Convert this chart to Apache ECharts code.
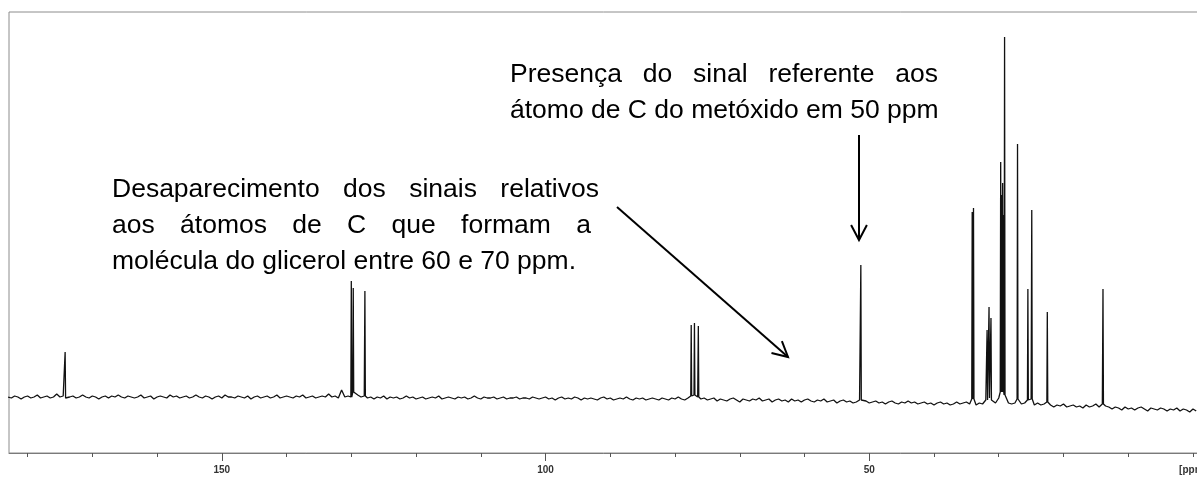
<!DOCTYPE html>
<html>
<head>
<meta charset="utf-8">
<script src="https://cdn.jsdelivr.net/npm/echarts@6/dist/echarts.min.js"></script>
<style>
  html, body { margin: 0; padding: 0; background: #fff; }
  #spectrum { width: 1197px; height: 477px; }
</style>
</head>
<body>
<div id="spectrum"></div>
<script>
// eixo em ppm (invertido, como no espectro de RMN)
const X_MIN = -0.93;
const X_MAX = 182.87;
const minorTicks = [180, 170, 160, 150, 140, 130, 120, 110, 100, 90, 80, 70, 60, 50, 40, 30, 20, 10, 0];
const majorTicks = [150, 100, 50];
const tickLabels = [150, 100, 50, 0];

// linha de base (ruído), um valor a cada 0.5 ppm, de 183 ppm até -0.5 ppm
const baselineStart = 183;
const baselineStep = 0.5;
const baseline = [
  3, 2, 4, 3, 1, 3, 4, 2, 3, 5, 2, 3, 4, 2, 3, 6, 3, 4, 2, 3,
  4, 2, 3, 5, 3, 2, 4, 3, 1, 3, 4, 2, 4, 3, 5, 3, 2, 4, 3, 2,
  3, 5, 2, 3, 4, 1, 3, 4, 3, 2, 5, 3, 4, 2, 3, 4, 2, 3, 5, 3,
  2, 4, 3, 1, 3, 4, 2, 5, 3, 3, 2, 4, 3, 2, 4, 1, 3, 4, 2, 3,
  4, 2, 3, 5, 2, 3, 4, 3, 2, 4, 3, 5, 2, 3, 4, 2, 3, 4, 3, 6,
  3, 4, 2, 10, 3, 4, 3, 8, 5, 3, 4, 2, 3, 1, 3, 2, 4, 1, 3, 2,
  3, 1, 2, 4, 2, 3, 1, 2, 3, 1, 2, 3, 2, 4, 1, 2, 3, 2, 1, 3,
  2, 3, 1, 2, 4, 2, 1, 3, 2, 2, 3, 1, 2, 3, 1, 2, 2, 3, 1, 2,
  2, 1, 3, 2, 1, 2, 3, 1, 2, 0, 2, 3, 1, 2, 1, 3, 2, 0, 2, 1,
  2, 1, 0, 2, 3, 1, 2, 0, 1, 2, 1, 3, 1, 0, 2, 1, 2, 0, 1, 2,
  1, 0, 2, 1, 0, 2, 1, 3, 1, 0, 2, 4, 5, 3, 1, 2, 0, 1, 2, -1,
  1, 0, -1, 1, 2, 0, -2, 1, 0, -1, 1, 0, 2, -1, 0, 1, -2, 0, 1, -1,
  0, -2, 1, -1, 0, -2, 0, 1, -1, -2, 0, -1, 1, -2, -1, 0, -3, -1, 0, -2,
  -1, -3, -2, 0, -1, -1, -3, -2, -1, -3, -2, -4, -2, -1, -3, -4, -2, -3, -1, -3,
  -2, -4, -3, -2, -4, -3, -5, -3, -2, -4, -3, -5, -4, -2, -4, -3, -2, -4, 1, -5,
  -3, -4, 0, 2, 0, -3, 2, 8, 5, -3, -4, -3, 1, -4, -3, 0, 1, -5, -3, -5,
  -4, -2, -5, -7, -5, -6, -4, -7, -6, -5, -7, -6, -8, -5, -7, -6, -4, -7, -4, -6,
  -7, -9, -7, -8, -10, -7, -9, -8, -10, -8, -7, -9, -11, -8, -9, -10, -8, -9, -11, -9,
  -10, -8, -11, -9, -10, -12, -9, -11
];

// sinais: deslocamento (ppm) e intensidade no topo
const peakShifts = [174.2, 130.0, 129.7, 127.9, 77.5, 77.0, 76.4, 51.3, 34.1, 33.9,
  31.8, 31.5, 31.2, 29.7, 29.55, 29.4, 29.3, 29.1, 27.1, 25.5, 24.9, 22.5, 13.9];
const peakHeights = [48, 119, 112, 109, 75, 77, 74, 135, 188, 192,
  70, 93, 82, 238, 205, 217, 185, 363, 256, 111, 190, 88, 111];

const FONT = '26.5px "Liberation Sans", Arial, sans-serif';

const buildTrace = () => {
  const pts = baseline.map((v, i) => [baselineStart - i * baselineStep, v]);
  peakShifts.forEach((p, k) => {
    const b = baseline[Math.round((baselineStart - p) / baselineStep)];
    pts.push([p + 0.07, b], [p, peakHeights[k]], [p - 0.07, b]);
  });
  pts.sort((a, b) => b[0] - a[0]);
  return pts;
};

// texto justificado: mede as palavras e distribui os espaços
const measureCtx = document.createElement('canvas').getContext('2d');
measureCtx.font = FONT;

const textLine = (text, x0, x1, y, justify) => {
  if (!justify) {
    return [{ type: 'text', x: x0, y: y, silent: true,
      style: { text: text, font: FONT, fill: '#000', textAlign: 'left', textVerticalAlign: 'middle' } }];
  }
  const words = text.split(' ');
  const widths = words.map(w => measureCtx.measureText(w).width);
  const total = widths.reduce((s, w) => s + w, 0);
  const gap = (x1 - x0 - total) / (words.length - 1);
  let x = x0;
  return words.map((w, i) => {
    const el = { type: 'text', x: x, y: y, silent: true,
      style: { text: w, font: FONT, fill: '#000', textAlign: 'left', textVerticalAlign: 'middle' } };
    x += widths[i] + gap;
    return el;
  });
};

const arrow = (x1, y1, x2, y2) => {
  const ang = Math.atan2(y2 - y1, x2 - x1);
  const len = 17, spread = Math.PI / 6.5;
  const head = [
    [x2 - len * Math.cos(ang - spread), y2 - len * Math.sin(ang - spread)],
    [x2, y2],
    [x2 - len * Math.cos(ang + spread), y2 - len * Math.sin(ang + spread)]
  ];
  return [
    { type: 'line', silent: true, shape: { x1: x1, y1: y1, x2: x2, y2: y2 },
      style: { stroke: '#000', lineWidth: 2 } },
    { type: 'polyline', silent: true, shape: { points: head },
      style: { stroke: '#000', lineWidth: 2, fill: null } }
  ];
};

const annotations = [].concat(
  textLine('Presença do sinal referente aos', 510, 938, 75, true),
  textLine('átomo de C do metóxido em 50 ppm', 510, 938, 111, false),
  textLine('Desaparecimento dos sinais relativos', 112, 599, 190, true),
  textLine('aos átomos de C que formam a', 112, 591, 226, true),
  textLine('molécula do glicerol entre 60 e 70 ppm.', 112, 591, 262, false),
  arrow(859, 135, 859, 240),
  arrow(617, 207, 788, 357)
);

const axisBase = {
  type: 'value',
  inverse: true,
  min: X_MIN,
  max: X_MAX,
  position: 'bottom',
  splitLine: { show: false }
};

const chart = echarts.init(document.getElementById('spectrum'), null, { renderer: 'canvas' });
chart.setOption({
  animation: false,
  backgroundColor: '#fff',
  grid: {
    left: 9, width: 1190, top: 12, bottom: 24,
    containLabel: false,
    outerBoundsMode: 'none',
    show: true, borderColor: '#8c8c8c', borderWidth: 1
  },
  xAxis: [
    Object.assign({}, axisBase, {
      axisLine: { show: true, onZero: false, lineStyle: { color: '#7a7a7a', width: 1 } },
      axisTick: { show: true, customValues: minorTicks, length: 4, lineStyle: { color: '#555' } },
      axisLabel: { show: false }
    }),
    Object.assign({}, axisBase, {
      axisLine: { show: false, onZero: false },
      axisTick: { show: true, customValues: majorTicks, length: 8, lineStyle: { color: '#555' } },
      axisLabel: {
        show: true,
        customValues: tickLabels,
        margin: 12,
        fontSize: 10,
        fontWeight: 'bold',
        color: '#333',
        fontFamily: 'Liberation Sans, Arial, sans-serif',
        formatter: v => (v === 0 ? '[ppm]' : String(v))
      }
    })
  ],
  yAxis: { type: 'value', min: -53, max: 388, show: false },
  series: [{
    type: 'line',
    data: buildTrace(),
    showSymbol: false,
    symbol: 'none',
    silent: true,
    lineStyle: { color: '#111', width: 1.3 }
  }],
  graphic: { elements: annotations }
});

window.addEventListener('resize', () => chart.resize());
</script>
</body>
</html>
